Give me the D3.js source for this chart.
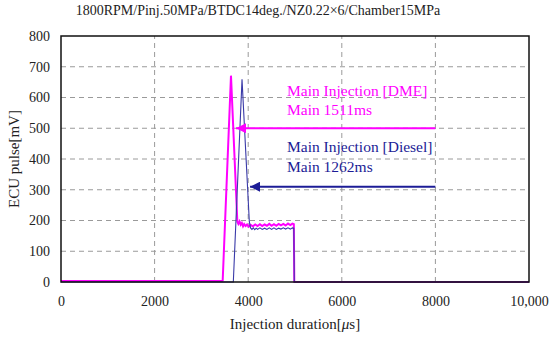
<!DOCTYPE html>
<html>
<head>
<meta charset="utf-8">
<script src="https://cdn.jsdelivr.net/npm/d3@7"></script>
<style>
  html, body { margin: 0; padding: 0; background: #fff; }
  svg { display: block; }
  text { font-family: "Liberation Serif", "DejaVu Serif", serif; }
</style>
</head>
<body>
<svg id="chart" width="550" height="337"></svg>
<script>
// ---- data ----
const title = "1800RPM/Pinj.50MPa/BTDC14deg./NZ0.22×6/Chamber15MPa";
const xTicks = [0, 2000, 4000, 6000, 8000, 10000];
const xTickLabels = ["0", "2000", "4000", "6000", "8000", "10,000"];
const yTicks = [0, 100, 200, 300, 400, 500, 600, 700, 800];

// DME trace: [injection duration µs, ECU pulse mV]
const dmeX = [0, 3440, 3455, 3632, 3768, 3790, 3815, 3840, 3865, 3890, 3915, 3945, 3975, 4010, 4050, 4100, 4150, 4200, 4250, 4300, 4350, 4400, 4450, 4500, 4550, 4600, 4650, 4700, 4750, 4800, 4850, 4900, 4945, 4975, 4985, 10000];
const dmeY = [3, 3, 5, 671, 196, 189, 197, 186, 192, 181, 188, 182, 187, 180, 186, 181, 187, 182, 188, 182, 187, 183, 189, 183, 188, 183, 189, 184, 189, 184, 190, 185, 190, 188, 0, 0];

// Diesel trace
const dslX = [0, 3682, 3868, 4024, 4050, 4080, 4110, 4140, 4170, 4200, 4250, 4300, 4350, 4400, 4450, 4500, 4550, 4600, 4650, 4700, 4750, 4800, 4850, 4900, 4945, 4975, 4985, 10000];
const dslY = [0, 0, 659, 196, 176, 171, 176, 170, 175, 171, 176, 171, 175, 171, 176, 171, 176, 171, 175, 172, 176, 172, 176, 172, 176, 175, 0, 0];

// annotations
const annotText = [
  ["Main Injection [DME]", "Main 1511ms"],
  ["Main Injection [Diesel]", "Main 1262ms"]
];
const annotColors = ["#ff00ff", "#1c1c96"];
const arrowFromX = [8000, 8000];
const arrowToX = [3740, 4040];
const arrowY = [500, 310];
const textX = [4829, 4829];
const textY = [[606, 543], [422, 359]];

// ---- chart ----
const svg = d3.select("#chart");
const margin = { left: 61, right: 21, top: 36, bottom: 55 };
const W = 550, H = 337;
const x = d3.scaleLinear().domain([0, 10000]).range([margin.left, W - margin.right]);
const y = d3.scaleLinear().domain([0, 800]).range([H - margin.bottom, margin.top]);

// grid
const grid = svg.append("g").attr("stroke", "#9a9a9a").attr("stroke-width", 1).attr("stroke-dasharray", "5,4");
grid.selectAll("line.h").data(yTicks.slice(1, -1)).join("line")
  .attr("x1", x(0)).attr("x2", x(10000))
  .attr("y1", d => y(d)).attr("y2", d => y(d));
grid.selectAll("line.v").data(xTicks.slice(1, -1)).join("line")
  .attr("y1", y(0)).attr("y2", y(800))
  .attr("x1", d => x(d)).attr("x2", d => x(d));

// axes (labels only)
const xAxis = d3.axisBottom(x).tickValues(xTicks).tickFormat((d, i) => xTickLabels[i]).tickSize(0).tickPadding(14);
const gx = svg.append("g").attr("transform", `translate(0,${y(0)})`).call(xAxis);
gx.select(".domain").remove();
gx.selectAll("text").attr("font-size", 14).attr("font-family", "Liberation Serif").attr("fill", "#222");

const yAxis = d3.axisLeft(y).tickValues(yTicks).tickSize(0).tickPadding(11);
const gy = svg.append("g").attr("transform", `translate(${x(0)},0)`).call(yAxis);
gy.select(".domain").remove();
gy.selectAll("text").attr("font-size", 14).attr("font-family", "Liberation Serif").attr("fill", "#222");

// lines
const line = d3.line().x(d => x(d[0])).y(d => y(d[1]));
const dsl = dslX.map((v, i) => [v, dslY[i]]);
const dme = dmeX.map((v, i) => [v, dmeY[i]]);
svg.append("path").datum(dme).attr("d", line).attr("fill", "none").attr("stroke", "#ff00ff").attr("stroke-width", 2);
svg.append("path").datum(dsl).attr("d", line).attr("fill", "none").attr("stroke", "#3a3aa8").attr("stroke-width", 1.1);

// border
svg.append("rect").attr("x", x(0)).attr("y", y(800)).attr("width", x(10000) - x(0)).attr("height", y(0) - y(800))
  .attr("fill", "none").attr("stroke", "#111").attr("stroke-width", 1.5);

// annotations
const defs = svg.append("defs");
annotColors.forEach((c, i) => {
  defs.append("marker").attr("id", "arr" + i).attr("viewBox", "0 0 10 10")
    .attr("refX", 0).attr("refY", 5).attr("markerWidth", 10).attr("markerHeight", 10)
    .attr("markerUnits", "userSpaceOnUse").attr("orient", "auto")
    .append("path").attr("d", "M0,5 L10,0 L10,10 Z").attr("fill", c);
  svg.append("line")
    .attr("x1", x(arrowToX[i])).attr("x2", x(arrowFromX[i]))
    .attr("y1", y(arrowY[i])).attr("y2", y(arrowY[i]))
    .attr("stroke", c).attr("stroke-width", 2)
    .attr("marker-start", `url(#arr${i})`);
  annotText[i].forEach((t, j) => {
    svg.append("text").attr("x", x(textX[i])).attr("y", y(textY[i][j]))
      .attr("font-size", 15.5).attr("fill", c).text(t);
  });
});

// titles
svg.append("text").attr("x", 258).attr("y", 15).attr("text-anchor", "middle")
  .attr("font-size", 14).attr("fill", "#222").text(title);

const xt = svg.append("text").attr("x", (x(0) + x(10000)) / 2).attr("y", 329).attr("text-anchor", "middle")
  .attr("font-size", 15).attr("fill", "#222");
xt.append("tspan").text("Injection duration[");
xt.append("tspan").attr("font-style", "italic").text("μ");
xt.append("tspan").text("s]");

svg.append("text").attr("transform", `translate(19,${(y(0) + y(800)) / 2}) rotate(-90)`)
  .attr("text-anchor", "middle").attr("font-size", 15).attr("fill", "#222").text("ECU pulse[mV]");
</script>
</body>
</html>
